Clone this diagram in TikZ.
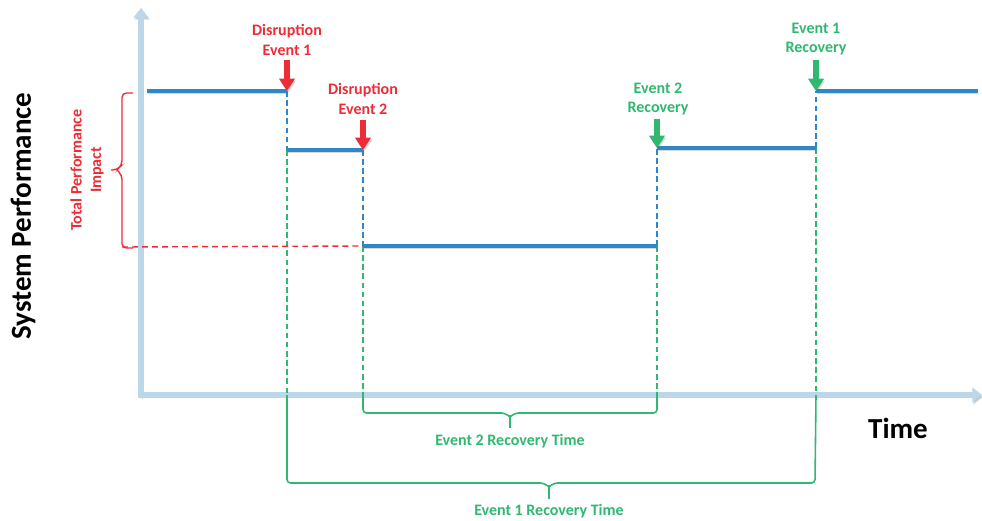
\documentclass[tikz,border=0pt]{standalone}
\usepackage{fontspec}
\setmainfont{Carlito}
\usetikzlibrary{arrows.meta}
\definecolor{axisblue}{HTML}{BDD7EA}
\definecolor{stepblue}{HTML}{2F86C9}
\definecolor{alarmred}{HTML}{EC2D37}
\definecolor{okgreen}{HTML}{2FB870}
\tikzset{
  shade/.style={preaction={draw=black!60,opacity=0.25,transform canvas={shift={(0.6pt,-1.1pt)}}}},
  axisline/.style={draw=axisblue,line width=3.4pt,shade,-{Triangle[width=8.5pt,length=5.5pt]}},
  level/.style={draw=stepblue,line width=1.8pt,shade},
  drop/.style={draw=stepblue,line width=0.85pt,dash pattern=on 3.2pt off 2pt},
  guide/.style={draw=okgreen,line width=0.85pt,dash pattern=on 3.2pt off 2pt},
  bracket/.style={draw=okgreen,line width=0.9pt,rounded corners=2pt},
  impact/.style={draw=alarmred,line width=0.8pt,rounded corners=2.5pt},
  impactline/.style={draw=alarmred,line width=0.8pt,dash pattern=on 3.4pt off 2.3pt},
  hitarrow/.style={line width=2.9pt,shade},
  lbl/.style={font=\bfseries\fontsize{9.1}{11.2}\selectfont,align=center,inner sep=0pt},
  big/.style={font=\bfseries\fontsize{16.5}{19}\selectfont,inner sep=0pt}
}
\begin{document}
\begin{tikzpicture}[x=0.02cm,y=-0.02cm]
\useasboundingbox (0,0) rectangle (982,520);

% corners of the performance curve
\coordinate (s0) at (147,91);
\coordinate (d1) at (287,91);
\coordinate (d1b) at (287,150);
\coordinate (d2) at (363,150);
\coordinate (d2b) at (363,246);
\coordinate (r2b) at (657,246);
\coordinate (r2) at (657,148);
\coordinate (r1b) at (816,148);
\coordinate (r1) at (816,91);
\coordinate (s5) at (978,91);

% axes
\coordinate (origin) at (141,395);
\coordinate (ytip) at (141,8);
\coordinate (xtip) at (982,395);
\draw[axisline] (141,397) -- (ytip);
\draw[axisline] (138,395) -- (xtip);

% green guides above the time axis
\coordinate (g1a) at (287,395);
\coordinate (g2a) at (363,395);
\coordinate (g3a) at (657,395);
\coordinate (g4a) at (816,395);
\draw[guide] (d1b) -- (g1a);
\draw[guide] (d2b) -- (g2a);
\draw[guide] (r2b) -- (g3a);
\draw[guide] (r1b) -- (g4a);

% blue drops between levels
\draw[drop] (d1) -- (d1b);
\draw[drop] (d2) -- (d2b);
\draw[drop] (r2b) -- (r2);
\draw[drop] (r1b) -- (r1);

% red impact line and brace
\coordinate (imp0) at (122,247);
\draw[impactline] (imp0) -- (d2b);
\draw[impact] (133,93) -- (122,93) -- (122,165) -- (117,170) -- (111,170);
\draw[impact] (133,248) -- (122,248) -- (122,175) -- (117,170);

% performance levels
\draw[level] (s0) -- (d1);
\draw[level] (d1b) -- (d2);
\draw[level] (d2b) -- (r2b);
\draw[level] (r2) -- (r1b);
\draw[level] (r1) -- (s5);

% recovery time brackets
\draw[bracket] (g2a) -- (363,413) -- (505,413) -- (510,417);
\draw[bracket] (g3a) -- (657,413) -- (515,413) -- (510,417);
\draw[draw=okgreen,line width=0.9pt] (510,415) -- (510,428);
\draw[bracket] (g1a) -- (287,483) -- (544,483) -- (549,487);
\draw[bracket] (g4a) -- (815,483) -- (554,483) -- (549,487);
\draw[draw=okgreen,line width=0.9pt] (549,485) -- (549,499);

% event labels
\node[lbl,text=alarmred] (lab1) at (287,40) {Disruption\\Event 1};
\node[lbl,text=alarmred] (lab2) at (363,99) {Disruption\\Event 2};
\node[lbl,text=okgreen] (lab3) at (658,99) {Event 2\\Recovery};
\node[lbl,text=okgreen] (lab4) at (816,39) {Event 1\\Recovery};

% event arrows
\coordinate (a1) at (287,60);
\coordinate (a2) at (363,120);
\coordinate (a3) at (657,119);
\coordinate (a4) at (816,60);
\draw[hitarrow,draw=alarmred,-{Triangle[width=8.6pt,length=7pt,fill=alarmred]}] (a1) -- (d1);
\draw[hitarrow,draw=alarmred,-{Triangle[width=8.6pt,length=7pt,fill=alarmred]}] (a2) -- (d2);
\draw[hitarrow,draw=okgreen,-{Triangle[width=8.6pt,length=7pt,fill=okgreen]}] (a3) -- (r2);
\draw[hitarrow,draw=okgreen,-{Triangle[width=8.6pt,length=7pt,fill=okgreen]}] (a4) -- (r1);

% span labels
\node[lbl,text=okgreen] (t2) at (510,441) {Event 2 Recovery Time};
\node[lbl,text=okgreen] (t1) at (549,511) {Event 1 Recovery Time};
\node[lbl,text=alarmred,rotate=90] (tpi) at (87,170) {Total Performance\\Impact};

% axis titles
\node[big] (ylab) at (23,216) [rotate=90] {System Performance};
\node[big] (xlab) at (898,428) {Time};
\end{tikzpicture}
\end{document}
